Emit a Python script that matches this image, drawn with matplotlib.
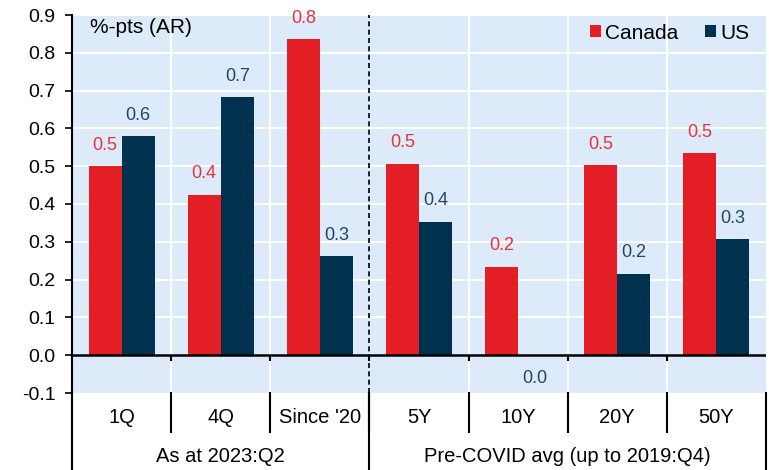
import matplotlib
matplotlib.use("Agg")
import matplotlib.pyplot as plt
import matplotlib.transforms as mtransforms
import numpy as np

plt.rcParams['font.family'] = ['Liberation Sans', 'DejaVu Sans']
plt.rcParams['axes.unicode_minus'] = False

categories = ["1Q", "4Q", "Since '20", "5Y", "10Y", "20Y", "50Y"]
canada = [0.50, 0.425, 0.836, 0.507, 0.234, 0.502, 0.535]
us = [0.58, 0.683, 0.262, 0.353, 0.0, 0.216, 0.307]
groups = ["As at 2023:Q2", "Pre-COVID avg (up to 2019:Q4)"]
group_spans = [(0, 2), (3, 6)]
y_ticks = [-0.1, 0.0, 0.1, 0.2, 0.3, 0.4, 0.5, 0.6, 0.7, 0.8, 0.9]

RED = '#E31E25'
NAVY = '#00324F'
RED_TXT = '#E8333B'
NAVY_TXT = '#1E4867'
BG = '#DDEAFA'

fig = plt.figure(figsize=(7.69, 4.70), dpi=100)
ax = fig.add_axes([72 / 769, 1 - 393 / 470, 694 / 769, 378 / 470])
ax.set_facecolor(BG)

x = np.arange(len(categories))
w = 1 / 3
bc = ax.bar(x - w / 2, canada, w, color=RED, label='Canada', zorder=3)
bu = ax.bar(x + w / 2, us, w, color=NAVY, label='US', zorder=3)

# value labels
for bars, vals, col in ((bc, canada, RED_TXT), (bu, us, NAVY_TXT)):
    for rect, v in zip(bars, vals):
        cx = rect.get_x() + rect.get_width() / 2
        off = 15 if v > 0 else -17
        ax.annotate(f"{v:.1f}", (cx, v), xytext=(0, off), textcoords='offset points',
                    ha='center', va='center', color=col, fontsize=13, zorder=5)

ax.set_xlim(-0.5, len(categories) - 0.5)
ax.set_ylim(-0.1, 0.9)
ax.set_yticks(y_ticks)
ax.set_yticklabels([f"{t:.1f}" for t in y_ticks])
ax.tick_params(axis='y', labelsize=14, length=5, width=1.2, color='black', pad=7)
ax.set_xticks([])

# grid
for t in y_ticks[2:]:
    ax.axhline(t, color='white', lw=1.5, zorder=1)
bounds = np.arange(0.5, len(categories) - 0.5, 1.0)
for b in bounds:
    if b == 2.5:
        continue
    ax.axvline(b, color='white', lw=1.5, zorder=1)
ax.axhline(0, color='black', lw=1.8, zorder=4)

for s in ('top', 'right', 'bottom'):
    ax.spines[s].set_visible(False)
ax.spines['left'].set_linewidth(1.5)

# small ticks on the zero line
for b in bounds:
    ax.plot([b, b], [0, -0.016], color='black', lw=1.5, zorder=4, solid_capstyle='butt')

# dashed separator between the two groups
ax.axvline(2.5, color='black', lw=1.2, ls=(0, (3, 2)), zorder=4)

# category axis below the plot
trans = mtransforms.blended_transform_factory(ax.transData, ax.transAxes)
for i, c in enumerate(categories):
    ax.text(i, -0.066, c, transform=trans, ha='center', va='center', fontsize=14.5)
for b in bounds:
    ax.plot([b, b], [0, -0.103], transform=trans, color='black', lw=1.5, clip_on=False)
for xb in (-0.5, 2.5, len(categories) - 0.5):
    ax.plot([xb, xb], [0, -0.21], transform=trans, color='black', lw=1.5, clip_on=False)
for g, (a, b) in zip(groups, group_spans):
    ax.text((a + b) / 2, -0.169, g, transform=trans, ha='center', va='center', fontsize=14.5)

ax.text(0.026, 0.968, "%-pts (AR)", transform=ax.transAxes, ha='left', va='center', fontsize=15)

ax.legend(loc='center right', bbox_to_anchor=((749 - 72) / 694, 0.952), frameon=False,
          fontsize=15, handlelength=0.53, handleheight=0.53, handletextpad=0.2,
          columnspacing=1.25, ncol=2, borderaxespad=0, borderpad=0)

fig.savefig('out.png', dpi=100)
